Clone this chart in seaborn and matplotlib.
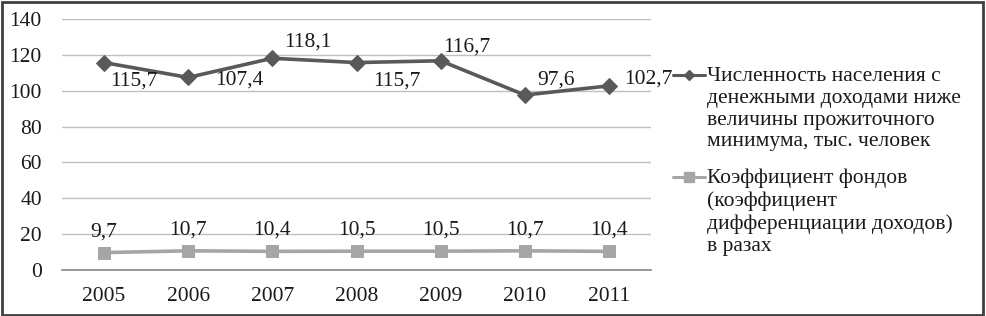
import matplotlib
matplotlib.use("Agg")
import matplotlib.pyplot as plt
import seaborn as sns
import pandas as pd
from matplotlib.lines import Line2D
from matplotlib.patches import Rectangle

years = ["2005", "2006", "2007", "2008", "2009", "2010", "2011"]
poverty = [115.7, 107.4, 118.1, 115.7, 116.7, 97.6, 102.7]
funds = [9.7, 10.7, 10.4, 10.5, 10.5, 10.7, 10.4]
poverty_labels = ["115,7", "107,4", "118,1", "115,7", "116,7", "97,6", "102,7"]
funds_labels = ["9,7", "10,7", "10,4", "10,5", "10,5", "10,7", "10,4"]
name1 = "Численность населения с\nденежными доходами ниже\nвеличины прожиточного\nминимума, тыс. человек"
name2 = "Коэффициент фондов\n(коэффициент\nдифференциации доходов)\nв разах"

sns.set_theme(style="white")
plt.rcParams["font.family"] = ["Liberation Serif", "DejaVu Serif"]

c1 = "#595959"
c2 = "#a6a6a6"
tc = "#1a1a1a"
fs = 15.5

fig = plt.figure(figsize=(9.86, 3.16), dpi=100)
ax = fig.add_axes([62/986, 1-270/316, (651-62)/986, (270-19)/316])

df1 = pd.DataFrame({"year": years, "value": poverty})
df2 = pd.DataFrame({"year": years, "value": funds})
sns.lineplot(data=df1, x="year", y="value", ax=ax, color=c1, linewidth=2.6,
             marker="D", markersize=8, markeredgecolor=c1, sort=False, legend=False)
sns.lineplot(data=df2, x="year", y="value", ax=ax, color=c2, linewidth=2.6,
             marker="s", markersize=9, markeredgecolor=c2, sort=False, legend=False)

# label offsets in pixels (dx to left edge, dy to vertical centre)
p_off = [(6, -18), (27, -3), (12, 16), (17, -18), (3, 14), (12, 15), (15, 7)]
for i, (v, t) in enumerate(zip(poverty, poverty_labels)):
    dx, dy = p_off[i]
    ax.annotate(t, (i, v), xytext=(dx, dy), textcoords="offset pixels",
                ha="left", va="center", fontsize=fs, color=tc, annotation_clip=False)
for i, (v, t) in enumerate(zip(funds, funds_labels)):
    ax.annotate(t, (i, v), xytext=(0, 21), textcoords="offset pixels",
                ha="center", va="center", fontsize=fs, color=tc)

ax.set_xlim(-0.5, 6.5)
ax.set_ylim(0, 140)
ax.set_yticks(range(0, 141, 20))
ax.set_xticks(range(7))
ax.set_xticklabels(years, fontsize=fs)
ax.tick_params(axis="y", labelsize=fs, length=6.5, width=1, color="#bfbfbf", pad=8)
ax.tick_params(axis="x", which="major", length=0, pad=12)
ax.set_xticks([i - 0.5 for i in range(8)], minor=True)
ax.tick_params(axis="x", which="minor", length=5, color="#8c8c8c", direction="out")
ax.grid(axis="y", color="#bfbfbf", linewidth=1)
ax.set_axisbelow(True)
ax.set_xlabel("")
ax.set_ylabel("")
for s in ["top", "right", "left"]:
    ax.spines[s].set_visible(False)
ax.spines["bottom"].set_color("#8c8c8c")
for t in ax.get_xticklabels() + ax.get_yticklabels():
    t.set_color(tc)

# legend (handle aligned with the first line of each multi-line entry)
entries = [(name1, c1, "D", 5, 75), (name2, c2, "s", 7, 177)]
for name, col, mk, ms, ypx in entries:
    yf = 1 - ypx / 316
    fig.add_artist(Line2D([673/986, 705/986], [yf, yf], color=col, linewidth=2.2,
                          transform=fig.transFigure))
    fig.add_artist(Line2D([689/986], [yf], color=col, marker=mk, markersize=ms,
                          transform=fig.transFigure))
    fig.text(707/986, 1 - (ypx - 8) / 316, name, ha="left", va="top",
             fontsize=fs, color=tc, linespacing=1.2)

fig.patches.append(Rectangle((0.002, 0.004), 0.995, 0.99, transform=fig.transFigure,
                             fill=False, edgecolor="#404040", linewidth=2))
fig.savefig("out.png", dpi=100)
